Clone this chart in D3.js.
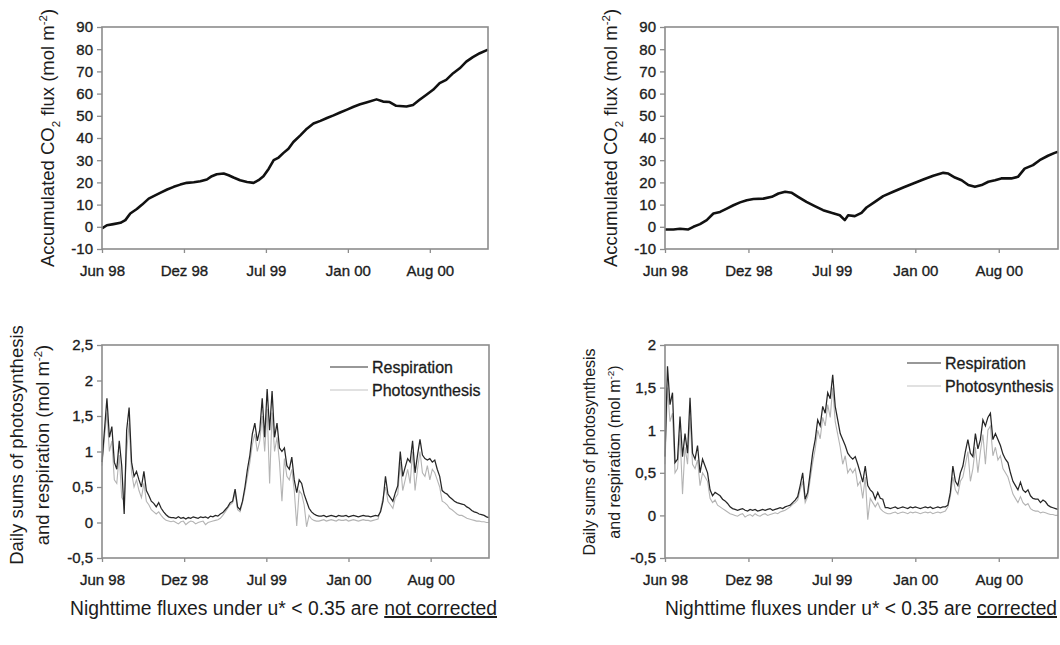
<!DOCTYPE html>
<html><head><meta charset="utf-8">
<script src="https://cdn.jsdelivr.net/npm/d3@7"></script>
<style>
body{margin:0;background:#fff;}
svg{display:block;font-family:"Liberation Sans",Arial,sans-serif;}
</style></head><body>
<svg id="c" width="1060" height="645"></svg>
<script>
// ---------- data ----------
const startDate = new Date(1998, 5, 5);
const spanDays = 942;
const xTickDays = [0, 200, 400, 600, 800];
const xTickLabels = ["Jun 98", "Dez 98", "Jul 99", "Jan 00", "Aug 00"];
const accTicks = [-10, 0, 10, 20, 30, 40, 50, 60, 70, 80, 90];
const dailyTicksL = [-0.5, 0, 0.5, 1, 1.5, 2, 2.5];
const dailyTicksR = [-0.5, 0, 0.5, 1, 1.5, 2];
const seriesNames = ["Respiration", "Photosynthesis"];
const captionL = ["Nighttime fluxes under u* < 0.35 are", "not corrected"];
const captionR = ["Nighttime fluxes under u* < 0.35 are", "corrected"];

// accumulated CO2 flux, not corrected (days since start, mol m-2)
const accDaysL = [0,12,28,45,57,69,85,98,114,126,142,159,175,191,207,224,240,256,268,280,297,309,321,337,354,370,382,394,407,419,431,443,455,467,484,500,516,533,549,565,581,598,614,630,645,670,686,702,718,743,759,775,791,808,824,840,857,873,889,905,922,942];
const accValsL = [-0.7,0.7,1.2,1.8,3,6,8,10,12.7,13.8,15.3,16.8,18,19,19.8,20.1,20.5,21.3,22.8,23.7,24,23.2,22.2,21,20.2,19.8,21,22.8,26.2,30,31.2,33.3,35.2,38.2,41.2,44.2,46.5,47.7,49,50.2,51.5,52.8,54.1,55.2,56,57.4,56.4,56.2,54.5,54.2,54.9,57.2,59.4,61.7,64.7,66.2,69.2,71.4,74.4,76.4,78.2,79.8];
// accumulated CO2 flux, corrected
const accDaysR = [0,20,36,56,68,84,100,116,132,148,164,180,196,212,236,256,272,288,304,319,339,359,379,399,419,431,439,455,471,483,503,523,547,571,595,619,643,667,679,695,711,727,743,759,775,791,806,830,846,862,882,898,918,934,942];
const accValsR = [-1.2,-1.2,-0.9,-1.2,0,1.2,3,6,6.7,8.2,9.7,11,12,12.5,12.7,13.5,15,15.8,15.3,13.5,11.2,9.3,7.5,6.3,5.2,3,5.2,4.8,6.3,8.7,11.2,13.8,15.8,17.7,19.5,21.3,23,24.3,24,22.2,21,18.8,18,18.8,20.3,21,21.8,21.8,22.5,26.2,27.8,30,32,33.3,33.8];

// daily sums, one value every dailyStep days
const dailyStep = 6;
const respL = [
0.85,1.3,1.75,1.2,1.35,0.85,0.75,1.15,0.8,0.12,
1.3,1.62,0.85,0.65,0.72,0.6,0.5,0.72,0.45,0.38,
0.3,0.27,0.22,0.28,0.2,0.15,0.11,0.08,0.07,0.07,
0.06,0.08,0.06,0.07,0.05,0.07,0.06,0.08,0.07,0.06,
0.08,0.07,0.08,0.06,0.09,0.08,0.1,0.09,0.12,0.14,
0.18,0.22,0.28,0.3,0.47,0.22,0.18,0.3,0.5,0.75,
0.95,1.25,1.4,1.15,1.3,1.75,1.2,1.88,1.3,1.85,
1.2,1.4,1.05,1.0,1.05,0.8,0.75,0.92,0.6,0.42,
0.6,0.55,0.4,0.3,0.2,0.15,0.12,0.1,0.09,0.09,
0.1,0.08,0.09,0.1,0.09,0.08,0.1,0.09,0.09,0.1,
0.08,0.09,0.1,0.09,0.08,0.09,0.1,0.09,0.09,0.08,
0.09,0.1,0.09,0.15,0.3,0.65,0.4,0.35,0.3,0.42,
0.52,1.0,0.65,0.78,0.9,0.85,1.15,0.7,0.95,1.17,
0.95,0.9,0.88,0.9,0.85,0.88,0.75,0.65,0.45,0.42,
0.4,0.36,0.33,0.3,0.28,0.27,0.26,0.25,0.22,0.2,
0.17,0.15,0.14,0.12,0.11,0.1,0.08,0.07];
const photoL = [
0.8,1.2,1.55,1.0,1.15,0.6,0.55,0.95,0.35,0.3,
1.0,1.4,0.7,0.5,0.6,0.45,0.35,0.55,0.3,0.25,
0.18,0.15,0.12,0.15,0.1,0.06,0.03,0.02,0.01,0.02,
0.0,-0.02,0.01,0.02,-0.03,0.0,0.02,0.01,-0.02,0.0,
0.01,0.02,-0.03,0.0,0.01,0.02,0.03,0.04,0.06,0.1,
0.15,0.2,0.25,0.28,0.42,0.18,0.15,0.28,0.45,0.65,
0.85,1.1,1.25,1.0,1.15,1.5,1.0,1.6,0.55,1.55,
1.0,1.2,0.85,0.3,0.9,0.65,0.6,0.75,0.45,-0.05,
0.45,0.4,0.25,-0.06,0.1,0.05,0.03,0.02,0.02,0.03,
0.04,0.02,0.03,0.04,0.03,0.02,0.04,0.03,0.03,0.04,
0.02,0.03,0.04,0.03,0.02,0.03,0.04,0.03,0.03,0.02,
0.03,0.04,0.05,0.18,0.35,0.5,0.3,0.25,0.2,0.35,
0.4,0.85,0.45,0.6,0.75,0.55,1.0,0.45,0.75,1.0,
0.7,0.65,0.8,0.6,0.75,0.7,0.6,0.5,0.3,0.28,
0.25,0.2,0.18,0.15,0.12,0.1,0.1,0.08,0.06,0.05,
0.04,0.03,0.02,0.02,0.01,0.01,0.0,0.0];
const respR = [
0.69,1.75,1.3,1.44,0.62,0.66,1.16,0.69,0.96,0.73,
1.38,0.73,0.66,0.82,0.5,0.66,0.58,0.5,0.3,0.23,
0.27,0.25,0.23,0.19,0.17,0.14,0.1,0.08,0.07,0.06,
0.07,0.08,0.06,0.05,0.07,0.06,0.07,0.05,0.06,0.07,
0.06,0.07,0.08,0.06,0.07,0.08,0.09,0.08,0.1,0.11,
0.12,0.15,0.18,0.22,0.35,0.5,0.19,0.27,0.5,0.73,
0.89,1.12,1.05,1.28,1.2,1.44,1.37,1.65,1.28,1.12,
0.96,0.89,0.82,0.73,0.69,0.66,0.69,0.6,0.5,0.39,
0.58,0.35,0.3,0.27,0.19,0.27,0.2,0.19,0.09,0.09,
0.08,0.09,0.1,0.08,0.09,0.1,0.09,0.08,0.1,0.09,
0.1,0.09,0.08,0.09,0.1,0.09,0.1,0.08,0.09,0.1,
0.09,0.1,0.1,0.12,0.27,0.58,0.4,0.35,0.5,0.58,
0.75,0.89,0.73,0.69,0.96,0.78,0.89,1.12,1.05,1.15,
1.2,0.89,0.96,0.89,0.82,0.72,0.66,0.62,0.5,0.4,
0.35,0.3,0.39,0.3,0.27,0.3,0.23,0.2,0.19,0.19,
0.15,0.18,0.16,0.12,0.1,0.09,0.08,0.07];
const photoR = [
0.6,1.5,1.1,1.2,0.5,0.55,0.95,0.25,0.8,0.6,
1.15,0.6,0.55,0.65,0.35,0.5,0.45,0.4,0.2,0.15,
0.18,0.12,0.1,0.08,0.06,0.04,0.02,0.01,0.0,-0.01,
0.01,0.02,-0.02,0.0,0.01,-0.01,0.02,0.0,-0.01,0.01,
0.02,0.0,0.01,0.02,0.03,0.02,0.04,0.05,0.06,0.08,
0.1,0.13,0.15,0.18,0.3,0.4,0.15,0.22,0.42,0.62,
0.78,1.0,0.9,1.15,1.05,1.3,1.15,1.5,1.1,0.95,
0.8,0.6,0.7,0.5,0.55,0.5,0.55,0.35,0.4,0.2,
0.45,-0.05,0.2,0.15,0.1,0.15,0.08,0.05,0.03,0.02,
0.02,0.03,0.04,0.02,0.03,0.04,0.03,0.02,0.04,0.03,
0.04,0.03,0.02,0.03,0.04,0.03,0.04,0.02,0.03,0.04,
0.03,0.04,0.05,0.1,0.22,0.45,0.3,0.25,0.4,0.45,
0.6,0.75,0.4,0.55,0.8,0.5,0.75,0.95,0.6,1.0,
1.05,0.7,0.8,0.65,0.7,0.55,0.5,0.45,0.35,0.25,
0.2,0.15,0.22,0.15,0.12,0.14,0.08,0.06,0.05,0.05,
0.03,0.04,0.03,0.02,0.01,0.01,0.0,0.0];

// ---------- drawing ----------
const svg = d3.select("#c");
const TXT = "#1c1c1c", FRAME = "#8c8c8c";
const dayDate = d => d3.timeDay.offset(startDate, d);
const commaFmt = d => String(d).replace(".", ",");

function panel(o) {
  const g = svg.append("g");
  const x = d3.scaleTime().domain([startDate, dayDate(spanDays)]).range([o.left, o.right]);
  const y = d3.scaleLinear().domain(o.yDomain).range([o.bottom, o.top]);

  const xa = d3.axisBottom(x)
    .tickValues(xTickDays.map(dayDate))
    .tickFormat((d, i) => xTickLabels[i])
    .tickSize(4).tickSizeOuter(0).tickPadding(o.xPad);
  const gx = g.append("g").attr("transform", `translate(0,${o.bottom})`).call(xa);
  const ya = d3.axisLeft(y).tickValues(o.yTicks).tickFormat(o.yFmt)
    .tickSize(5).tickSizeOuter(0).tickPadding(4);
  const gy = g.append("g").attr("transform", `translate(${o.left},0)`).call(ya);
  [gx, gy].forEach(a => {
    a.select(".domain").remove();
    a.selectAll(".tick line").attr("stroke", FRAME).attr("stroke-width", 1.3);
    a.selectAll(".tick text").attr("fill", TXT).attr("stroke", TXT).attr("stroke-width", 0.35)
      .style("font-size", "15px").style("font-family", "Liberation Sans, Arial, sans-serif");
  });

  o.draw(g, x, y);

  g.append("rect").attr("x", o.left).attr("y", o.top)
    .attr("width", o.right - o.left).attr("height", o.bottom - o.top)
    .attr("fill", "none").attr("stroke", FRAME).attr("stroke-width", 1.6);
  return {x, y};
}

function accDraw(days, vals) {
  return (g, x, y) => {
    const line = d3.line().x(d => x(dayDate(d[0]))).y(d => y(d[1]));
    g.append("path").datum(days.map((d, i) => [d, vals[i]]))
      .attr("d", line).attr("fill", "none").attr("stroke", "#111")
      .attr("stroke-width", 2.6).attr("stroke-linejoin", "round");
  };
}
function dailyDraw(resp, photo, leg) {
  return (g, x, y) => {
    const line = d3.line().x((d, i) => x(dayDate(i * dailyStep))).y(d => y(d));
    g.append("path").datum(photo).attr("d", line).attr("fill", "none")
      .attr("stroke", "#b4b4b4").attr("stroke-width", 1.1);
    g.append("path").datum(resp).attr("d", line).attr("fill", "none")
      .attr("stroke", "#262626").attr("stroke-width", 1.25);
    const cols = ["#333", "#c4c4c4"];
    seriesNames.forEach((n, i) => {
      const yy = leg.y + i * leg.dy;
      g.append("line").attr("x1", leg.x0).attr("x2", leg.x1).attr("y1", yy).attr("y2", yy)
        .attr("stroke", cols[i]).attr("stroke-width", 1.2);
      g.append("text").attr("x", leg.tx).attr("y", yy).attr("dy", "0.36em")
        .attr("fill", TXT).attr("stroke", TXT).attr("stroke-width", 0.3)
        .style("font-size", "16px").text(n);
    });
  };
}

function yTitleAcc(cx, cy, size) {
  const t = svg.append("text").attr("transform", `translate(${cx},${cy}) rotate(-90)`)
    .attr("text-anchor", "middle").attr("dy", "0.35em").attr("fill", TXT)
    .style("font-size", size + "px");
  t.append("tspan").text("Accumulated CO");
  t.append("tspan").attr("dy", size * 0.3).style("font-size", (size * 0.62) + "px").text("2");
  t.append("tspan").attr("dy", -size * 0.3).text(" flux (mol m");
  t.append("tspan").attr("dy", -size * 0.38).style("font-size", (size * 0.62) + "px").text("-2");
  t.append("tspan").attr("dy", size * 0.38).text(")");
}
function yTitleDaily(cx1, cx2, cy, size) {
  svg.append("text").attr("transform", `translate(${cx1},${cy}) rotate(-90)`)
    .attr("text-anchor", "middle").attr("dy", "0.35em").attr("fill", TXT)
    .style("font-size", size + "px").text("Daily sums of photosynthesis");
  const t = svg.append("text").attr("transform", `translate(${cx2},${cy}) rotate(-90)`)
    .attr("text-anchor", "middle").attr("dy", "0.35em").attr("fill", TXT)
    .style("font-size", size + "px");
  t.append("tspan").text("and respiration (mol m");
  t.append("tspan").attr("dy", -size * 0.38).style("font-size", (size * 0.62) + "px").text("-2");
  t.append("tspan").attr("dy", size * 0.38).text(")");
}
function caption(x, yb, parts, len) {
  const mk = (s) => svg.append("text").attr("x", x).attr("y", yb).attr("fill", TXT)
    .style("font-family", "'Liberation Sans Narrow','Arial Narrow','Liberation Sans',sans-serif")
    .style("font-size", "20px").text(s);
  const a = mk(parts[0]);
  const b = mk(parts[1]).style("text-decoration", "underline");
  const wa = a.node().getComputedTextLength();
  const wb = b.node().getComputedTextLength();
  const gap = 5.6;
  const k = len / (wa + gap + wb);
  a.attr("textLength", wa * k).attr("lengthAdjust", "spacingAndGlyphs");
  b.attr("x", x + (wa + gap) * k).attr("textLength", wb * k).attr("lengthAdjust", "spacingAndGlyphs");
}

// top-left
panel({left: 102, right: 488, top: 27, bottom: 249, yDomain: [-10, 90], yTicks: accTicks,
  yFmt: d => d, xPad: 12, draw: accDraw(accDaysL, accValsL)});
// top-right
panel({left: 665, right: 1058, top: 27, bottom: 249, yDomain: [-10, 90], yTicks: accTicks,
  yFmt: d => d, xPad: 12, draw: accDraw(accDaysR, accValsR)});
// bottom-left
panel({left: 102, right: 489, top: 345, bottom: 558, yDomain: [-0.5, 2.5], yTicks: dailyTicksL,
  yFmt: commaFmt, xPad: 12,
  draw: dailyDraw(respL, photoL, {x0: 330, x1: 368, tx: 372, y: 367, dy: 23})});
// bottom-right
panel({left: 665, right: 1058, top: 345, bottom: 558, yDomain: [-0.5, 2], yTicks: dailyTicksR,
  yFmt: commaFmt, xPad: 12,
  draw: dailyDraw(respR, photoR, {x0: 907, x1: 941, tx: 945, y: 363, dy: 23})});

yTitleAcc(48, 138, 18.5);
yTitleAcc(611, 138, 18.5);
yTitleDaily(17, 43, 445, 18.5);
yTitleDaily(589, 614, 452, 16);

caption(70, 615, captionL, 427);
caption(665, 615, captionR, 392);
</script>
</body></html>
